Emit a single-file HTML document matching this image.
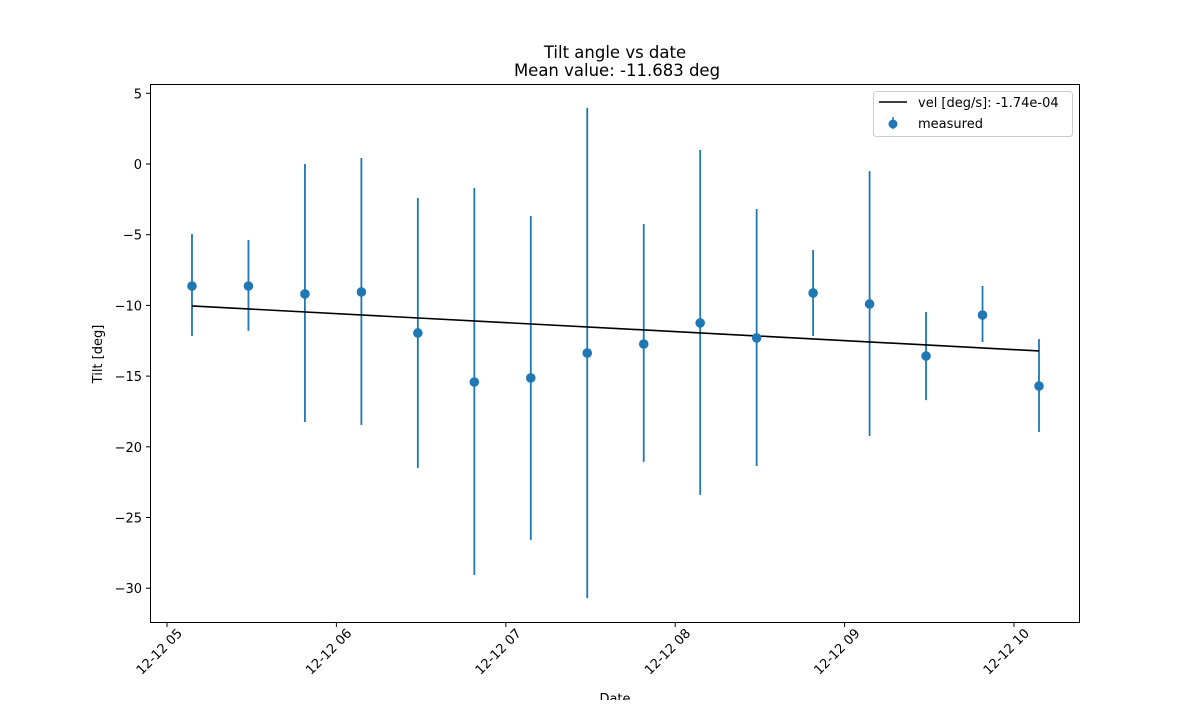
<!DOCTYPE html>
<html><head><meta charset="utf-8"><style>
body{margin:0;background:#fff;}
svg text{font-family:"DejaVu Sans","Liberation Sans",sans-serif;fill:#000;}
</style></head><body>
<svg id="c" width="1200" height="700" xmlns="http://www.w3.org/2000/svg">
<rect width="1200" height="700" fill="#fff"/>
<text x="615" y="58" font-size="16.5" text-anchor="middle">Tilt angle vs date</text>
<text x="617" y="76" font-size="16.5" text-anchor="middle">Mean value: -11.683 deg</text>
<g id="plot"></g>
<rect x="150.5" y="84.5" width="929" height="538" fill="none" stroke="#000" stroke-width="1"/>
<text x="102" y="354" font-size="13" text-anchor="middle" transform="rotate(-90 102 354)">Tilt [deg]</text>
<text x="615" y="703" font-size="13" text-anchor="middle">Date</text>
<g>
<rect x="873.5" y="91.5" width="199" height="45" rx="3" fill="#fff" fill-opacity="0.8" stroke="#ccc"/>
<line x1="879" y1="102" x2="907" y2="102" stroke="#000" stroke-width="1.5"/>
<text x="918" y="107" font-size="13">vel [deg/s]: -1.74e-04</text>
<line x1="893" y1="117" x2="893" y2="129" stroke="#1f77b4" stroke-width="1.5"/>
<circle cx="893" cy="124" r="4.5" fill="#1f77b4"/>
<text x="918" y="128" font-size="13">measured</text>
</g>
</svg>
<script>
const hours=[5.1475,5.4808,5.8142,6.1475,6.4808,6.8142,7.1475,7.4808,7.8142,8.1475,8.4808,8.8142,9.1475,9.4808,9.8142,10.1475];
const tilt=[-8.63,-8.63,-9.19,-9.05,-11.95,-15.42,-15.13,-13.37,-12.73,-11.24,-12.3,-9.12,-9.9,-13.58,-10.68,-15.7];
const errTop=[-4.95,-5.37,0,0.42,-2.4,-1.7,-3.68,3.96,-4.24,0.99,-3.18,-6.08,-0.5,-10.47,-8.63,-12.38];
const errBottom=[-12.16,-11.8,-18.25,-18.46,-21.5,-29.07,-26.6,-30.7,-21.07,-23.4,-21.36,-12.16,-19.24,-16.7,-12.59,-18.95];
const fitHours=[5.1475,10.1475];
const fitValues=[-10.04,-13.22];
const yTicks=[5,0,-5,-10,-15,-20,-25,-30];
const xTicks=[5,6,7,8,9,10];
const xTickLabels=["12-12 05","12-12 06","12-12 07","12-12 08","12-12 09","12-12 10"];
const X=h=>167+(h-5)*169.4;
const Y=v=>164-v*14.14;
const NS="http://www.w3.org/2000/svg";
const g=document.getElementById('plot');
function mk(t,a){const e=document.createElementNS(NS,t);for(const k in a)e.setAttribute(k,a[k]);g.appendChild(e);return e;}
yTicks.forEach(v=>{
 const l=mk('line',{x1:146,x2:150,y1:Y(v),y2:Y(v),stroke:'#000'});
 
 
 const t=mk('text',{x:142,y:Y(v)+5,'font-size':13,'text-anchor':'end'});t.textContent=String(v).replace('-','−');
 
 
});
xTicks.forEach((h,i)=>{
 const x=X(h);
 const l=mk('line',{x1:x,x2:x,y1:623,y2:627,stroke:'#000'});
 
 
 const ax=x+16, ay=634;
 const t=mk('text',{x:ax,y:ay,'font-size':13,'text-anchor':'end',transform:`rotate(-45 ${ax} ${ay})`});t.textContent=xTickLabels[i];
 
 
});
hours.forEach((h,i)=>{
 const l=mk('line',{x1:X(h),x2:X(h),y1:Y(errTop[i]),y2:Y(errBottom[i]),stroke:'#1f77b4','stroke-width':1.8});
 
 
});
const fl=mk('line',{x1:X(fitHours[0]),y1:Y(fitValues[0]),x2:X(fitHours[1]),y2:Y(fitValues[1]),stroke:'#000','stroke-width':1.6});


hours.forEach((h,i)=>{
 const c=mk('circle',{cx:X(h),cy:Y(tilt[i]),r:4.8,fill:'#1f77b4'});
 
 
});
</script>
</body></html>
